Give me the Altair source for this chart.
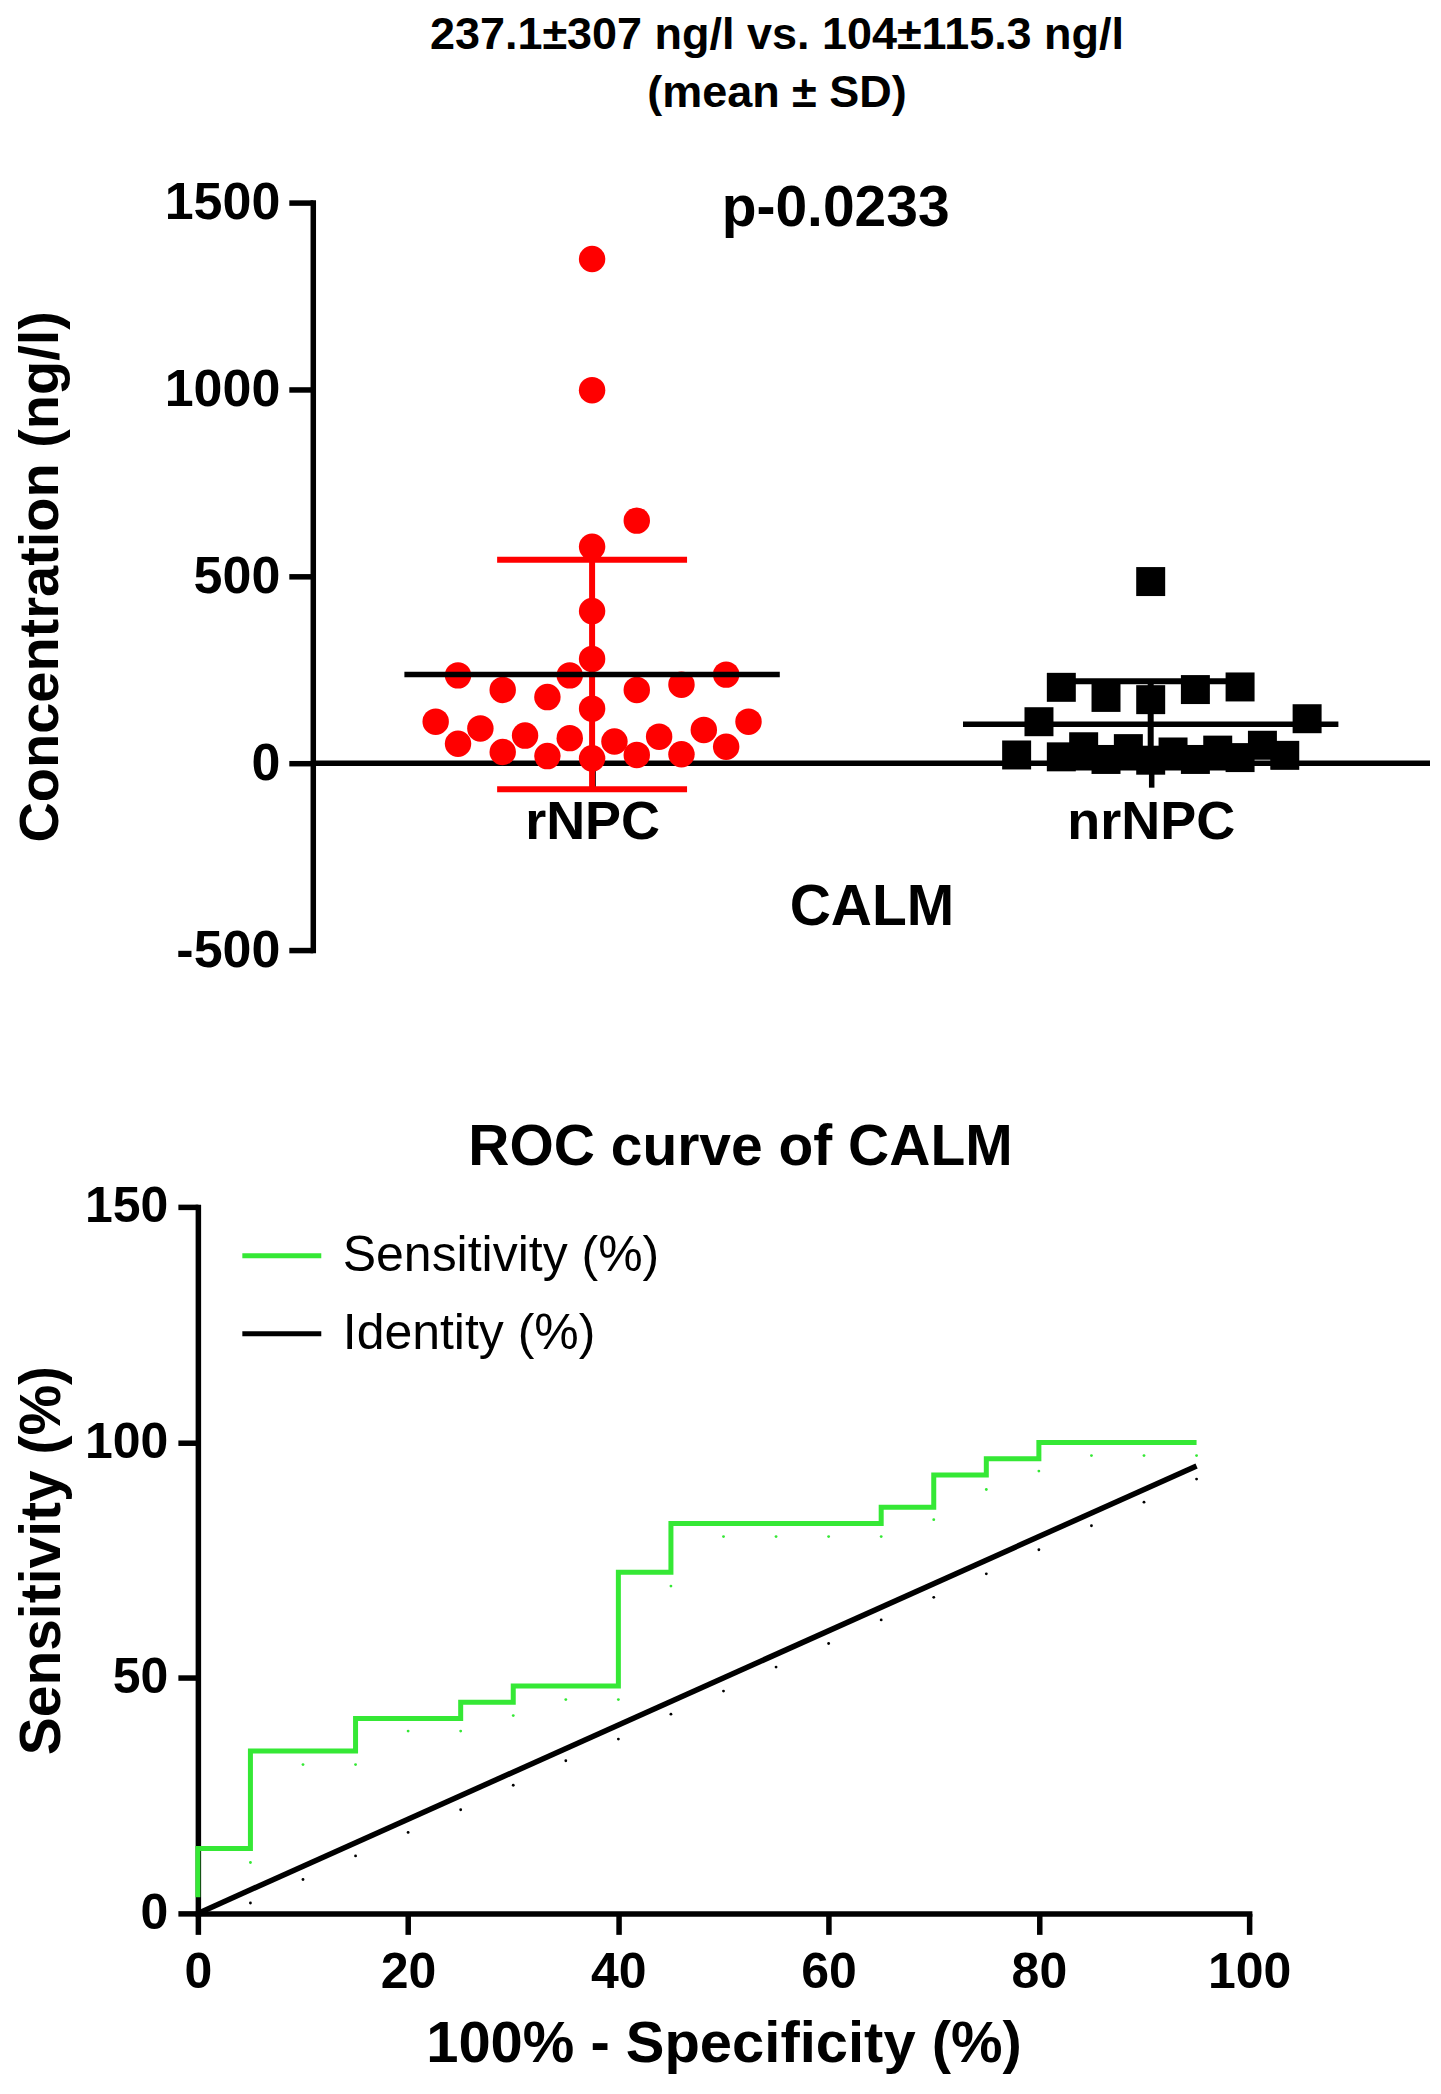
import altair as alt
import pandas as pd

FONT = "Liberation Sans"
RED = "#ff0000"
GREEN = "#35e835"

# ---------------- data: scatter (top panel) ----------------
groups = ["rNPC", "nrNPC"]
rnpc_values = [1349, 998, 649, 579, 407, 279, 235, 235, 237, 196, 196, 210, 177, 146,
               111, 111, 93, 89, 52, 74, 67, 58, 71, 44, 30, 19, 13, 22, 24]
rnpc_slots = [0, 0, 2, 0, 0, 0, -6, -1, 6, -4, 2, 4, -2, 0,
              -7, 7, -5, 5, -6, -3, -1, 1, 3, 6, -4, -2, 0, 2, 4]
nrnpc_values = [486, 203, 176, 170, 197, 204, 111, 119, 22, 21,
                44, 39, 30, 35, 48, 17, 10, 8, 10, 15]
nrnpc_slots = [0, -4, -2, 0, 2, 4, -5, 7, -6, 6,
               -3, -1, 1, 3, 5, -4, -2, 0, 2, 4]
means = [237.1, 104.0]
sds = [307.0, 115.3]
title_lines = ["237.1\u00b1307 ng/l vs. 104\u00b1115.3 ng/l", "(mean \u00b1 SD)"]
p_label = ["p-0.0233"]
p_x = [1.436]
p_y = [1438]
y_ticks_top = [-500, 0, 500, 1000, 1500]

# ---------------- data: ROC (bottom panel) ----------------
roc_fpr = [0, 0, 5, 15, 25, 30, 40, 45, 65, 70, 75, 80, 95]
roc_sens = [3.45, 13.79, 34.48, 41.38, 44.83, 48.28, 72.41, 82.76, 86.21, 93.10, 96.55, 100, 100]
identity_x = [0, 95]
identity_y = [0, 95]
dot_x = [5, 10, 15, 20, 25, 30, 35, 40, 45, 50, 55, 60, 65, 70, 75, 80, 85, 90, 95]
green_dot_y = [10.8, 31.6, 31.6, 38.7, 38.7, 42.0, 45.4, 45.4, 69.5, 80.0, 80.0, 80.0,
               80.0, 83.6, 90.0, 93.9, 97.2, 97.2, 97.2]
black_dot_y = [2.2, 7.2, 12.2, 17.2, 22.0, 27.2, 32.4, 37.0, 42.3, 47.2, 52.3, 57.3,
               62.3, 67.1, 72.1, 77.2, 82.3, 87.3, 92.2]
series_names = ["Sensitivity (%)", "Identity (%)"]

# ---------------- layout constants ----------------
SLOT = 0.04        # horizontal spread step (x units)
MEAN_HALF = 0.336  # half width of mean line
CAP_HALF = 0.17    # half width of SD caps
X_LO, X_HI = 0.5, 2.5          # visible category range of the top panel
PLOT_W = 1118                  # visible top plot width
AXIS_SHIFT = 115               # top y axis sits this far right of the ROC y axis
PX_PER_UNIT = PLOT_W / (X_HI - X_LO)
TOP_W = PLOT_W + AXIS_SHIFT
TOP_H = 748

center_of = {g: i + 1 for i, g in enumerate(groups)}
pts = pd.DataFrame({
    "group": [groups[0]] * len(rnpc_values) + [groups[1]] * len(nrnpc_values),
    "value": rnpc_values + nrnpc_values,
    "slot": rnpc_slots + nrnpc_slots,
})
pts["xpos"] = pts["group"].map(center_of) + pts["slot"] * SLOT

summ = pd.DataFrame({"group": groups, "mean": means, "sd": sds})
summ["center"] = summ["group"].map(center_of)
summ["lo"] = summ["mean"] - summ["sd"]
summ["hi"] = summ["mean"] + summ["sd"]
summ["m1"] = summ["center"] - MEAN_HALF
summ["m2"] = summ["center"] + MEAN_HALF
summ["c1"] = summ["center"] - CAP_HALF
summ["c2"] = summ["center"] + CAP_HALF

ann = pd.DataFrame({"label": p_label, "x": p_x, "y": p_y})
baseline = pd.DataFrame({"x1": [X_LO], "x2": [X_HI], "y": [0]})

x_top_scale = alt.Scale(domain=[X_LO - AXIS_SHIFT / PX_PER_UNIT, X_HI], nice=False, zero=False)
y_top_scale = alt.Scale(domain=[-500, 1500], nice=False, zero=False)
x_top_axis = alt.Axis(
    values=[1, 2],
    labelExpr="datum.value == 1 ? 'rNPC' : 'nrNPC'",
    title="CALM",
    titleX=AXIS_SHIFT + PLOT_W / 2,
    offset=-187,
    grid=False, domain=False, labelFlush=False,
    tickSize=24, tickWidth=5.5,
    labelFontSize=54, labelFontWeight="bold", labelPadding=8,
    titleFontSize=57, titleFontWeight="bold", titlePadding=30,
)
y_top_axis = alt.Axis(
    values=y_ticks_top, grid=False,
    labelExpr="toString(datum.value)",
    title="Concentration (ng/l)",
    offset=-AXIS_SHIFT,
    tickSize=24, tickWidth=5.5, domainWidth=5.5,
    labelFontSize=52, labelFontWeight="bold", labelPadding=9,
    titleFontSize=56, titleFontWeight="bold", titlePadding=95,
)


def tx(field):
    return alt.X(field, scale=x_top_scale, axis=x_top_axis)


def ty(field):
    return alt.Y(field, scale=y_top_scale, axis=y_top_axis)


zero_line = alt.Chart(baseline).mark_rule(strokeWidth=5.5, color="#000000").encode(
    x=tx("x1:Q"), x2="x2:Q", y=ty("y:Q"))
circles = alt.Chart(pts).transform_filter(alt.datum.group == groups[0]).mark_circle(
    size=700, color=RED, opacity=1).encode(x=tx("xpos:Q"), y=ty("value:Q"))
squares = alt.Chart(pts).transform_filter(alt.datum.group == groups[1]).mark_square(
    size=841, color="#000000", opacity=1).encode(x=tx("xpos:Q"), y=ty("value:Q"))

layers = [zero_line, circles, squares]
for g, col in zip(groups, [RED, "#000000"]):
    s = alt.Chart(summ).transform_filter(alt.datum.group == g)
    layers.append(s.mark_rule(strokeWidth=6, color=col).encode(
        x=tx("center:Q"), y=ty("lo:Q"), y2="hi:Q"))
    layers.append(s.mark_rule(strokeWidth=6, color=col).encode(
        x=tx("c1:Q"), x2="c2:Q", y=ty("hi:Q")))
    layers.append(s.mark_rule(strokeWidth=6, color=col).encode(
        x=tx("c1:Q"), x2="c2:Q", y=ty("lo:Q")))

mean_line = alt.Chart(summ).mark_rule(strokeWidth=5.5, color="#000000").encode(
    x=tx("m1:Q"), x2="m2:Q", y=ty("mean:Q"))
p_text = alt.Chart(ann).mark_text(
    fontSize=57, fontWeight="bold", font=FONT, align="center", baseline="alphabetic",
    color="#000000").encode(x=tx("x:Q"), y=ty("y:Q"), text="label:N")
layers += [mean_line, p_text]

top = alt.layer(*layers).properties(
    width=TOP_W, height=TOP_H,
    title=alt.TitleParams(
        text=title_lines, fontSize=45, fontWeight="bold", font=FONT,
        lineHeight=58, anchor="middle", frame="group", dx=-37, offset=61,
        color="#000000"),
)

# ---------------- ROC ----------------
roc_df = pd.DataFrame({"fpr": roc_fpr, "sens": roc_sens,
                       "series": series_names[0], "idx": list(range(len(roc_fpr)))})
id_df = pd.DataFrame({"fpr": identity_x, "sens": identity_y, "series": series_names[1],
                      "idx": list(range(len(identity_x)))})
gdots = pd.DataFrame({"fpr": dot_x, "sens": green_dot_y})
bdots = pd.DataFrame({"fpr": dot_x, "sens": black_dot_y})

ser_color = alt.Scale(domain=series_names, range=[GREEN, "#000000"])
ROC_W, ROC_H = 1052, 707

x_roc_scale = alt.Scale(domain=[0, 100], nice=False)
y_roc_scale = alt.Scale(domain=[0, 150], nice=False)
x_roc_axis = alt.Axis(values=[0, 20, 40, 60, 80, 100], grid=False, labelFlush=False,
                      title="100% - Specificity (%)",
                      tickSize=21, tickWidth=5.5, domainWidth=5.5,
                      labelFontSize=50, labelFontWeight="bold", labelPadding=13,
                      titleFontSize=58, titleFontWeight="bold", titlePadding=18)
y_roc_axis = alt.Axis(values=[0, 50, 100, 150], grid=False, labelFlush=False,
                      title="Sensitivity (%)",
                      tickSize=20, tickWidth=5.5, domainWidth=5.5,
                      labelFontSize=50, labelFontWeight="bold", labelPadding=10,
                      titleFontSize=57, titleFontWeight="bold", titlePadding=13)


def rx():
    return alt.X("fpr:Q", scale=x_roc_scale, axis=x_roc_axis)


def ry():
    return alt.Y("sens:Q", scale=y_roc_scale, axis=y_roc_axis)


legend = alt.Legend(
    title=None, orient="none", legendX=42, legendY=7,
    symbolType="stroke", symbolSize=6241, symbolStrokeWidth=5,
    labelFontSize=50, labelFont=FONT, labelFontWeight="normal", labelColor="#000000",
    labelLimit=1000, labelOffset=19, rowPadding=11, padding=0)

green_line = alt.Chart(roc_df).mark_line(interpolate="step-after", strokeWidth=5).encode(
    x=rx(), y=ry(), order="idx:Q",
    color=alt.Color("series:N", scale=ser_color, legend=legend))
ident_line = alt.Chart(id_df).mark_line(strokeWidth=5.5).encode(
    x=rx(), y=ry(), order="idx:Q",
    color=alt.Color("series:N", scale=ser_color, legend=legend))
g_pts = alt.Chart(gdots).mark_circle(size=8, color=GREEN, opacity=1).encode(x=rx(), y=ry())
b_pts = alt.Chart(bdots).mark_circle(size=8, color="#000000", opacity=1).encode(x=rx(), y=ry())

roc = alt.layer(green_line, ident_line, g_pts, b_pts).properties(
    width=ROC_W, height=ROC_H,
    title=alt.TitleParams(text="ROC curve of CALM", fontSize=57, fontWeight="bold",
                          font=FONT, anchor="middle", frame="group", dx=17, offset=5,
                          color="#000000"),
)

chart = alt.vconcat(top, roc, spacing=143).resolve_scale(
    color="independent").resolve_legend(color="independent").properties(
    padding={"left": 4, "top": 4, "right": 0, "bottom": 0}
).configure(font=FONT).configure_view(stroke=None).configure_axis(
    domainColor="#000000", tickColor="#000000", labelColor="#000000",
    titleColor="#000000", labelFont=FONT, titleFont=FONT, domainCap="square",
)

chart.save("out.html", embed_options={"renderer": "svg", "actions": False})
